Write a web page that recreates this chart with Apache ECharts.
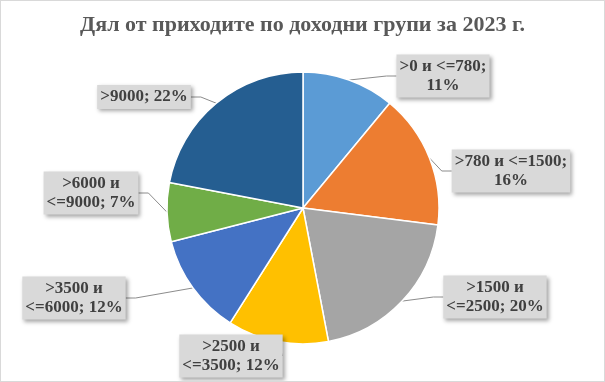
<!DOCTYPE html>
<html><head><meta charset="utf-8">
<script src="https://cdn.jsdelivr.net/npm/echarts@6/dist/echarts.min.js"></script>
<style>
html,body{margin:0;padding:0;background:#fff;}
#c{width:603px;height:380px;border:1px solid #d9d9d9;}
</style></head>
<body><div id="c"></div>
<script>
const categories = ['>0 и <=780;\n11%', '>780 и <=1500;\n16%', '>1500 и\n<=2500; 20%', '>2500 и\n<=3500; 12%', '>3500 и\n<=6000; 12%', '>6000 и\n<=9000; 7%', '>9000; 22%'];
const values = [11, 16, 20, 12, 12, 7, 22];
const colors = ['#5B9BD5', '#ED7D31', '#A5A5A5', '#FFC000', '#4472C4', '#70AD47', '#255E91'];
const labelPos = [[442,75],[510,170],[494,296],[230,355],[73,297],[90,192],[143,96]];

const chart = echarts.init(document.getElementById('c'));
chart.setOption({
  animation:false,
  backgroundColor:'#fff',
  title:{text:'Дял от приходите по доходни групи за 2023 г.', left:'center', top:8,
    textStyle:{fontFamily:'Liberation Serif', fontWeight:'bold', fontSize:22, color:'#595959'}},
  series:[{
    type:'pie', center:[302,207], radius:136, startAngle:90, clockwise:true,
    itemStyle:{borderColor:'#fff', borderWidth:1.5},
    data: values.map((v,i)=>({name:categories[i], value:v, itemStyle:{color:colors[i]}})),
    label:{show:true, formatter:'{b}', fontFamily:'Liberation Serif', fontWeight:'bold', fontSize:17,
      color:'#404040', lineHeight:19, backgroundColor:'#D9D9D9', padding:[3,3,2,3], align:'center',
      shadowColor:'rgba(0,0,0,0.35)', shadowBlur:4, shadowOffsetX:2, shadowOffsetY:2},
    labelLine:{show:true, lineStyle:{color:'#8c8c8c', width:1}, length:10, length2:10},
    labelLayout:function(p){
      const pos = labelPos[p.dataIndex];
      return {x:pos[0], y:pos[1], align:'center', verticalAlign:'middle'};
    }
  }]
});
</script></body></html>
